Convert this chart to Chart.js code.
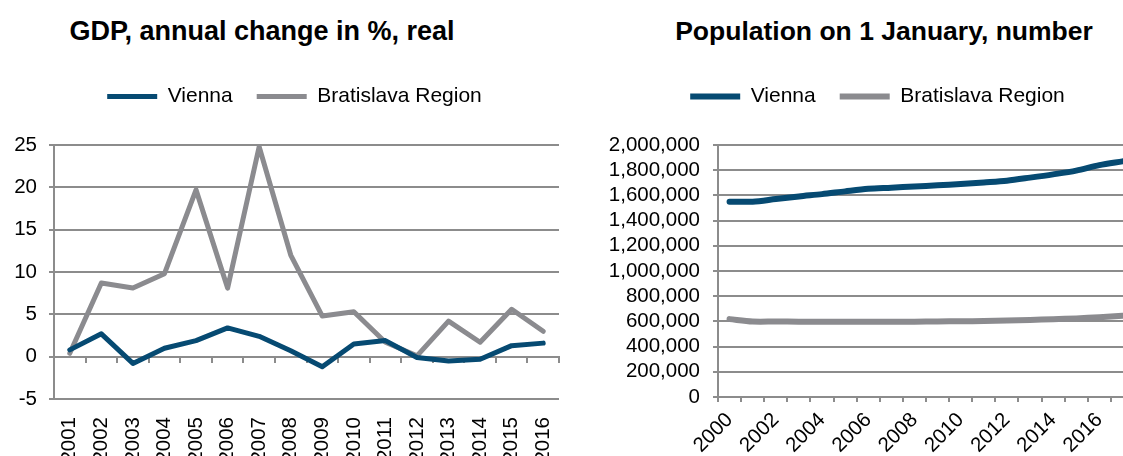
<!DOCTYPE html>
<html>
<head>
<meta charset="utf-8">
<script src="https://cdn.jsdelivr.net/npm/chart.js@4/dist/chart.umd.min.js"></script>
<style>
  body { margin: 0; width: 1123px; height: 456px; overflow: hidden; position: relative; background: #fff; }
  .title { position: absolute; top: 16px; line-height: 26px; font: bold 27px "Liberation Sans", Arial, sans-serif; color: #000; text-align: center; white-space: nowrap; }
  canvas { position: absolute; top: 0; }
</style>
</head>
<body>
<div class="title" style="left:0; width:524px">GDP, annual change in %, real</div>
<div class="title" style="left:560px; width:648px; font-size:26.5px">Population on 1 January, number</div>
<canvas id="gdpChart" width="560" height="456" style="left:0"></canvas>
<canvas id="popChart" width="574" height="456" style="left:560px"></canvas>
<script>
const gdpYears = ["2001", "2002", "2003", "2004", "2005", "2006", "2007", "2008",
  "2009", "2010", "2011", "2012", "2013", "2014", "2015", "2016"];
const gdpVienna = [0.8, 2.7, -0.8, 1.0, 1.9, 3.4, 2.4, 0.7, -1.2, 1.5, 1.9, -0.1, -0.5, -0.3, 1.3, 1.6];
const gdpBratislava = [0.4, 8.7, 8.1, 9.8, 19.7, 8.1, 24.8, 12.0, 4.8, 5.3, 1.7, 0.1, 4.2, 1.7, 5.6, 3.0];

const popYears = ["2000", "2001", "2002", "2003", "2004", "2005", "2006", "2007", "2008", "2009",
  "2010", "2011", "2012", "2013", "2014", "2015", "2016", "2017"];
const popVienna = [1550000, 1550000, 1571000, 1592000, 1610000, 1632000, 1652000, 1661000, 1671000, 1680000,
  1690000, 1703000, 1717000, 1741000, 1767000, 1797000, 1840000, 1870000];
const popBratislava = [618000, 599000, 599000, 598000, 598000, 598000, 598000, 597000, 598000, 600000,
  601000, 603000, 607000, 612000, 617000, 624000, 633000, 645000];

const blue = "#064a72";
const grey = "#8b8b8f";
const gridColor = "#8c8c8c";

Chart.defaults.font.family = '"Liberation Sans", Arial, sans-serif';
Chart.defaults.font.size = 20.5;
Chart.defaults.color = "#000";

// moves the legend box after layout so it sits where the original put it
const legendShift = {
  id: "legendShift",
  afterLayout(chart, args, opts) {
    const lg = chart.legend;
    if (!lg) return;
    lg.left += opts.dx || 0;
    lg.right += opts.dx || 0;
    lg.top += opts.dy || 0;
    lg.bottom += opts.dy || 0;
  },
};

const lineStyle = (label, data, color, width, tension) => ({
  label: label,
  data: data,
  borderColor: color,
  backgroundColor: color,
  borderWidth: width,
  borderCapStyle: "round",
  borderJoinStyle: "round",
  pointRadius: 0,
  pointStyle: "line",
  tension: tension,
});

const legendOpts = {
  position: "top",
  labels: {
    usePointStyle: true,
    pointStyleWidth: 50,
    padding: 24,
    font: { size: 21 },
    color: "#000",
  },
};

// gdp chart
new Chart(document.getElementById("gdpChart"), {
  type: "line",
  data: {
    labels: gdpYears,
    datasets: [
      lineStyle("Vienna", gdpVienna, blue, 5, 0),
      lineStyle("Bratislava Region", gdpBratislava, grey, 5, 0),
    ],
  },
  plugins: [legendShift],
  options: {
    responsive: false,
    animation: false,
    layout: { padding: { left: 0, right: 1, top: 60, bottom: 0 } },
    scales: {
      x: {
        type: "category",
        offset: true,
        grid: { display: false },
        border: { display: false },
        ticks: { autoSkip: false, minRotation: 90, maxRotation: 90, padding: 10 },
        afterFit: (scale) => {
          scale.height = 57;
          scale.paddingLeft = 0;
          scale.paddingRight = 0;
        },
      },
      xZero: {
        type: "category",
        position: { y: 0 },
        offset: true,
        grid: { offset: true, drawOnChartArea: false, drawTicks: true, tickLength: 5, color: gridColor, lineWidth: 2 },
        border: { display: true, color: gridColor, width: 2 },
        ticks: { display: false },
        afterFit: (scale) => {
          scale.paddingLeft = 0;
          scale.paddingRight = 0;
        },
      },
      y: {
        min: -5,
        max: 25,
        ticks: { stepSize: 5, padding: 12, autoSkip: false },
        grid: { color: gridColor, lineWidth: 2, tickLength: 5 },
        border: { display: true, color: gridColor, width: 2 },
        afterFit: (scale) => {
          scale.width = 54;
          scale.paddingTop = 145;
        },
      },
    },
    plugins: {
      legend: legendOpts,
      legendShift: { dx: 15, dy: -28 },
      tooltip: { enabled: false },
    },
  },
});

// population chart
new Chart(document.getElementById("popChart"), {
  type: "line",
  data: {
    labels: popYears,
    datasets: [
      lineStyle("Vienna", popVienna, blue, 6, 0.3),
      lineStyle("Bratislava Region", popBratislava, grey, 6, 0.3),
    ],
  },
  plugins: [legendShift],
  options: {
    responsive: false,
    animation: false,
    layout: { padding: { left: 39, right: 0, top: 60, bottom: 0 } },
    scales: {
      x: {
        type: "category",
        offset: true,
        grid: { offset: true, drawOnChartArea: false, drawTicks: true, tickLength: 5, color: gridColor, lineWidth: 2 },
        border: { display: true, color: gridColor, width: 2 },
        ticks: {
          autoSkip: false,
          minRotation: 45,
          maxRotation: 45,
          padding: 6,
          callback: (value, index) => (index % 2 === 0 ? popYears[index] : ""),
        },
        afterFit: (scale) => {
          scale.height = 59;
          scale.paddingLeft = 0;
          scale.paddingRight = 0;
        },
      },
      y: {
        min: 0,
        max: 2000000,
        ticks: {
          stepSize: 200000,
          padding: 13,
          autoSkip: false,
          callback: (value) => value.toLocaleString("en-US"),
        },
        grid: { color: gridColor, lineWidth: 2, tickLength: 5 },
        border: { display: true, color: gridColor, width: 2 },
        afterFit: (scale) => {
          scale.width = 119;
          scale.paddingTop = 145;
        },
      },
    },
    plugins: {
      legend: legendOpts,
      legendShift: { dx: 11, dy: -28 },
      tooltip: { enabled: false },
    },
  },
});
</script>
</body>
</html>
